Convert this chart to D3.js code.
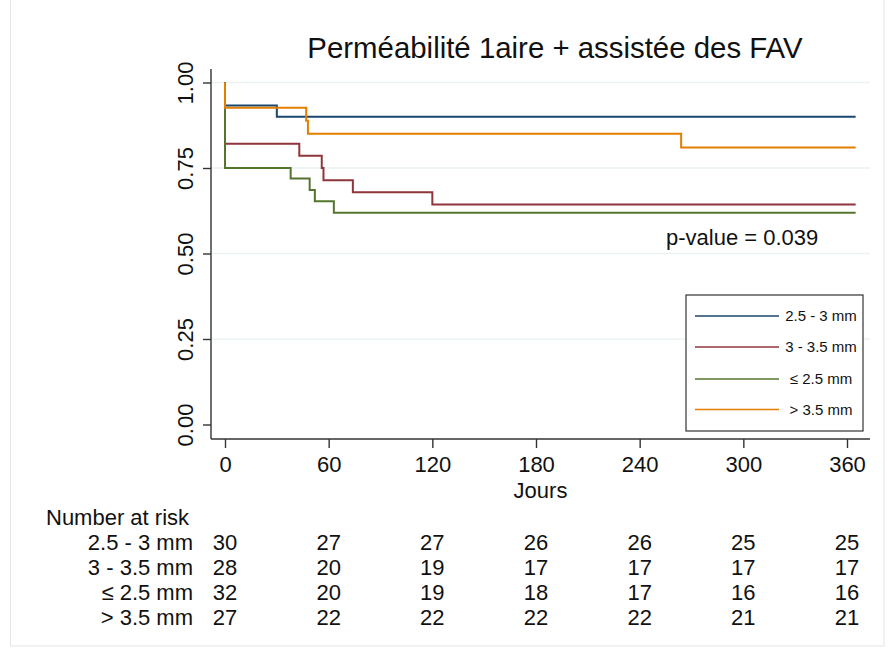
<!DOCTYPE html>
<html>
<head>
<meta charset="utf-8">
<script src="https://cdn.jsdelivr.net/npm/d3@7"></script>
<style>
  html, body { margin: 0; padding: 0; background: #fff; }
  svg { display: block; font-family: "Liberation Sans", Arial, Helvetica, sans-serif; }
</style>
</head>
<body>
<svg id="chart" width="895" height="651"></svg>
<script>
// ---- Data ----
const title = "Perméabilité 1aire + assistée des FAV";
const xLabel = "Jours";
const pValueText = "p-value = 0.039";
const groups = ["2.5 - 3 mm", "3 - 3.5 mm", "\u2264 2.5 mm", "> 3.5 mm"];
const colors = ["#1a476f", "#90353b", "#55752f", "#e37e00"];

// Kaplan-Meier step points (time in days, survival)
const timesA = [0, 0, 30];
const survA  = [1, 0.933, 0.900];
const timesB = [0, 0, 43, 56, 57, 74, 120];
const survB  = [1, 0.821, 0.786, 0.750, 0.714, 0.679, 0.643];
const timesC = [0, 0, 38, 49, 52, 63];
const survC  = [1, 0.750, 0.719, 0.686, 0.653, 0.619];
const timesD = [0, 0, 47, 48, 264];
const survD  = [1, 0.926, 0.888, 0.850, 0.810];
const endTime = 365;

const xTicks = [0, 60, 120, 180, 240, 300, 360];
const yTicks = [0, 0.25, 0.5, 0.75, 1];
const gridTicks = [0.25, 0.5, 0.75, 1];

const riskTitle = "Number at risk";
const riskA = [30, 27, 27, 26, 26, 25, 25];
const riskB = [28, 20, 19, 17, 17, 17, 17];
const riskC = [32, 20, 19, 18, 17, 16, 16];
const riskD = [27, 22, 22, 22, 22, 21, 21];

// ---- Build ----
const series = [
  {name: groups[0], t: timesA, s: survA, risk: riskA, color: colors[0]},
  {name: groups[1], t: timesB, s: survB, risk: riskB, color: colors[1]},
  {name: groups[2], t: timesC, s: survC, risk: riskC, color: colors[2]},
  {name: groups[3], t: timesD, s: survD, risk: riskD, color: colors[3]}
];

const svg = d3.select("#chart");
const axisColor = "#333";
const plotLeft = 211, plotRight = 870, plotTop = 69, plotBottom = 439;

const x = d3.scaleLinear().domain([0, 360]).range([225, 847]);
const y = d3.scaleLinear().domain([0, 1]).range([424.5, 82.5]);

// outer light frame
svg.append("rect").attr("x", 10.5).attr("y", -5).attr("width", 873.5).attr("height", 651)
  .attr("fill", "none").attr("stroke", "#e4e4e4").attr("stroke-width", 1);

// gridlines
svg.append("g").selectAll("line").data(gridTicks).join("line")
  .attr("x1", plotLeft).attr("x2", plotRight)
  .attr("y1", d => y(d)).attr("y2", d => y(d))
  .attr("stroke", "#eaf2f3").attr("stroke-width", 1.6);

// curves
const line = d3.line().x(d => x(d[0])).y(d => y(d[1])).curve(d3.curveStepAfter);
series.forEach(sr => {
  const pts = sr.t.map((t, i) => [t, sr.s[i]]);
  pts.push([endTime, sr.s[sr.s.length - 1]]);
  svg.append("path").datum(pts)
    .attr("d", line)
    .attr("fill", "none")
    .attr("stroke", sr.color)
    .attr("stroke-width", 2);
});

// axis lines
svg.append("line").attr("x1", plotLeft).attr("x2", plotLeft).attr("y1", plotTop).attr("y2", plotBottom)
  .attr("stroke", axisColor).attr("stroke-width", 1.4);
svg.append("line").attr("x1", plotLeft).attr("x2", plotRight).attr("y1", plotBottom).attr("y2", plotBottom)
  .attr("stroke", axisColor).attr("stroke-width", 1.4);

// y axis
const yAxis = svg.append("g").attr("transform", `translate(${plotLeft},0)`)
  .call(d3.axisLeft(y).tickValues(yTicks).tickFormat(d3.format(".2f")).tickSize(8));
yAxis.select(".domain").remove();
yAxis.selectAll(".tick line").attr("stroke", axisColor).attr("stroke-width", 1.4);
yAxis.selectAll(".tick text")
  .attr("transform", "rotate(-90)")
  .attr("x", 0).attr("y", -18).attr("dy", 0)
  .attr("text-anchor", "middle")
  .attr("font-size", 22).attr("fill", "#111")
  .style("font-family", "'Liberation Sans', Arial, sans-serif");

// x axis
const xAxis = svg.append("g").attr("transform", `translate(0,${plotBottom})`)
  .call(d3.axisBottom(x).tickValues(xTicks).tickSize(9));
xAxis.select(".domain").remove();
xAxis.selectAll(".tick line").attr("stroke", axisColor).attr("stroke-width", 1.4);
xAxis.selectAll(".tick text")
  .attr("y", 33).attr("dy", 0)
  .attr("font-size", 22).attr("fill", "#111")
  .style("font-family", "'Liberation Sans', Arial, sans-serif");

// x label
svg.append("text").attr("x", (plotLeft + plotRight) / 2).attr("y", 497.5)
  .attr("text-anchor", "middle").attr("font-size", 22).attr("fill", "#111").text(xLabel);

// title
svg.append("text").attr("x", 555).attr("y", 58)
  .attr("text-anchor", "middle").attr("font-size", 29.4).attr("fill", "#111").text(title);

// p-value
svg.append("text").attr("x", 666).attr("y", 245)
  .attr("font-size", 22).attr("fill", "#111").text(pValueText);

// legend
const legend = svg.append("g");
legend.append("rect").attr("x", 686).attr("y", 295).attr("width", 177).attr("height", 136)
  .attr("fill", "#fff").attr("stroke", axisColor).attr("stroke-width", 1.2);
const legendY = [316, 347, 379, 409.5];
series.forEach((sr, i) => {
  legend.append("line").attr("x1", 695).attr("x2", 779)
    .attr("y1", legendY[i]).attr("y2", legendY[i])
    .attr("stroke", sr.color).attr("stroke-width", 1.6);
  legend.append("text").attr("x", 821).attr("y", legendY[i] + 5.2)
    .attr("text-anchor", "middle").attr("font-size", 15).attr("fill", "#111").text(sr.name);
});

// risk table
const riskBase = 525, riskStep = 24.9;
svg.append("text").attr("x", 46).attr("y", riskBase)
  .attr("font-size", 22).attr("fill", "#111").text(riskTitle);
series.forEach((sr, i) => {
  const yy = riskBase + riskStep * (i + 1);
  svg.append("text").attr("x", 193).attr("y", yy).attr("text-anchor", "end")
    .attr("font-size", 22).attr("fill", "#111").text(sr.name);
  svg.append("g").selectAll("text").data(sr.risk).join("text")
    .attr("x", (d, j) => x(xTicks[j])).attr("y", yy)
    .attr("text-anchor", "middle").attr("font-size", 22).attr("fill", "#111")
    .text(d => d);
});
</script>
</body>
</html>
